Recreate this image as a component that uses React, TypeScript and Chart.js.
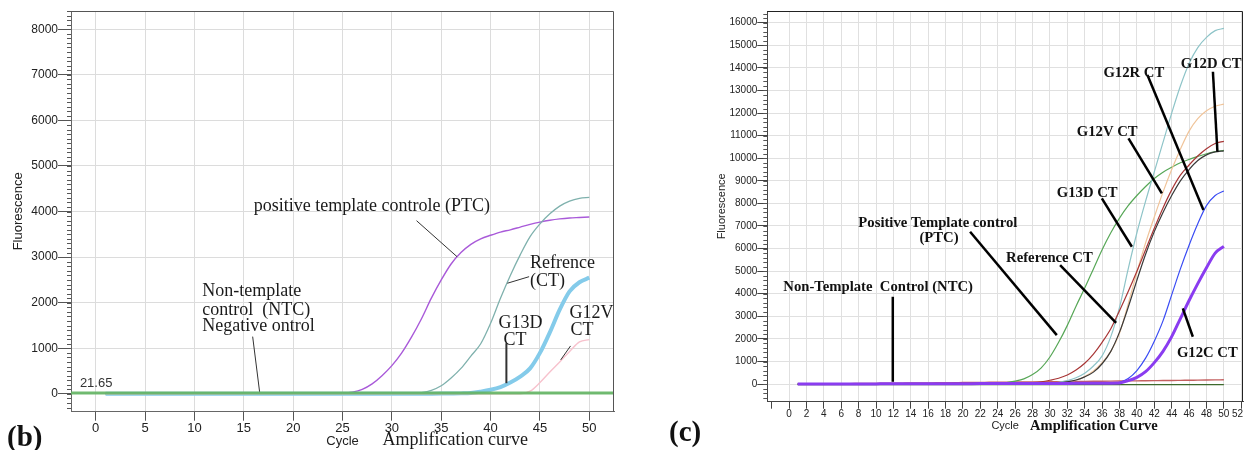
import React, { useEffect, useRef } from 'react';
import { Chart, registerables } from 'chart.js';

Chart.register(...registerables);

const SANS = '"Liberation Sans", Arial, sans-serif';
const NARROW = '"Liberation Sans Narrow", "Arial Narrow", "Liberation Sans", sans-serif';
const SERIF = '"Liberation Serif", "Times New Roman", serif';

// ---------------- shared cycles ----------------
const cycles = [1, 2, 3, 4, 5, 6, 7, 8, 9, 10, 11, 12, 13, 14, 15, 16, 17, 18, 19, 20, 21, 22, 23, 24, 25, 26, 27, 28, 29, 30, 31, 32, 33, 34, 35, 36, 37, 38, 39, 40, 41, 42, 43, 44, 45, 46, 47, 48, 49, 50];

// ---------------- panel (b) ----------------
const bXTicks = [0, 5, 10, 15, 20, 25, 30, 35, 40, 45, 50];
const bYTicks = [0, 1000, 2000, 3000, 4000, 5000, 6000, 7000, 8000];
const bThreshold = 21.65;
const bPTC = [5, 5, 6, 5, 6, 6, 5, 6, 6, 5, 6, 6, 5, 6, 6, 6, 7, 6, 7, 7, 7, 8, 9, 11, 16, 40, 100, 220, 400, 620, 900, 1250, 1650, 2100, 2500, 2850, 3100, 3280, 3400, 3480, 3550, 3600, 3660, 3720, 3770, 3810, 3840, 3860, 3870, 3880];
const bReference = [4, 4, 4, 4, 4, 4, 4, 4, 4, 4, 4, 4, 4, 4, 4, 4, 4, 4, 4, 4, 4, 4, 4, 4, 4, 4, 4, 5, 5, 6, 7, 10, 30, 80, 180, 350, 560, 830, 1100, 1550, 2100, 2600, 3050, 3450, 3730, 3950, 4120, 4230, 4290, 4310];
const bG13D = [3, 3, 3, 3, 3, 3, 3, 3, 3, 3, 3, 3, 3, 3, 3, 3, 3, 3, 3, 3, 3, 3, 3, 3, 3, 3, 3, 3, 3, 4, 4, 5, 5, 6, 7, 9, 12, 20, 50, 90, 150, 250, 380, 560, 900, 1350, 1850, 2250, 2450, 2550];
const bG12V = [0, 0, 0, 0, 0, 0, 0, 0, 0, 0, 0, 0, 0, 0, 0, 0, 0, 0, 0, 0, 0, 0, 0, 0, 0, 0, 0, 0, 0, 0, 0, 0, 0, 0, 0, 0, 0, 0, 0, 0, 1, 2, 4, 60, 250, 480, 700, 930, 1140, 1190];

const bTexts = [
  { text: 'positive template controle (PTC)', c: 16.0, v: 4112, style: 'b' },
  { text: 'Refrence', c: 44.0, v: 2866, style: 'b' },
  { text: '(CT)', c: 44.0, v: 2463, style: 'b' },
  { text: 'Non-template', c: 10.8, v: 2243, style: 'b' },
  { text: 'control  (NTC)', c: 10.8, v: 1842, style: 'b' },
  { text: 'Negative ontrol', c: 10.8, v: 1476, style: 'b' },
  { text: 'G13D', c: 40.8, v: 1550, style: 'b' },
  { text: 'CT', c: 41.3, v: 1184, style: 'b' },
  { text: 'G12V', c: 48.0, v: 1770, style: 'b' },
  { text: 'CT', c: 48.1, v: 1404, style: 'b' },
  { text: '21.65', c: -1.6, v: 235, style: 'bsmall' },
  { text: 'Amplification curve', c: 29.05, v: -1009, style: 'btitle' },
];
const bLeaders = [
  { c1: 32.5, v1: 3800, c2: 36.6, v2: 3011, w: 1 },
  { c1: 43.9, v1: 2572, c2: 41.7, v2: 2428, w: 1 },
  { c1: 15.9, v1: 1257, c2: 16.6, v2: 50, w: 1 },
  { c1: 41.6, v1: 1112, c2: 41.6, v2: 235, w: 2 },
  { c1: 48.1, v1: 1053, c2: 47.1, v2: 746, w: 1 },
];

// ---------------- panel (c) ----------------
const cXTicks = [-2, 0, 2, 4, 6, 8, 10, 12, 14, 16, 18, 20, 22, 24, 26, 28, 30, 32, 34, 36, 38, 40, 42, 44, 46, 48, 50, 52];
const cYTicks = [0, 1000, 2000, 3000, 4000, 5000, 6000, 7000, 8000, 9000, 10000, 11000, 12000, 13000, 14000, 15000, 16000];
const cPTC = [2, 3, 3, 4, 5, 6, 6, 7, 8, 9, 10, 11, 12, 12, 13, 14, 15, 16, 17, 18, 20, 24, 30, 42, 65, 130, 230, 420, 720, 1200, 1850, 2600, 3450, 4250, 5100, 5950, 6700, 7350, 7900, 8350, 8750, 9100, 9380, 9600, 9800, 9950, 10080, 10200, 10290, 10350];
const cG13D = [0, 1, 2, 3, 4, 5, 5, 6, 7, 8, 9, 10, 10, 11, 12, 13, 13, 14, 15, 15, 16, 17, 17, 18, 18, 19, 19, 20, 20, 40, 80, 150, 280, 480, 800, 1250, 2100, 3400, 5100, 6700, 8100, 9400, 10700, 12000, 13200, 14200, 14900, 15350, 15650, 15750];
const cG12V = [0, 1, 2, 3, 3, 4, 5, 5, 6, 7, 7, 8, 8, 9, 9, 10, 10, 10, 11, 11, 11, 12, 12, 12, 12, 13, 13, 13, 10, 20, 40, 80, 170, 330, 580, 950, 1450, 2250, 3550, 4950, 6250, 7400, 8500, 9500, 10400, 11200, 11750, 12100, 12300, 12400];
const cReference = [0, 2, 4, 5, 6, 8, 9, 10, 12, 13, 15, 16, 18, 19, 21, 22, 24, 25, 27, 28, 30, 32, 34, 37, 40, 45, 52, 62, 100, 170, 260, 400, 620, 920, 1330, 1850, 2450, 3250, 4100, 5000, 5950, 6900, 7800, 8600, 9250, 9700, 10100, 10420, 10650, 10750];
const cG12D = [0, 1, 1, 2, 2, 3, 3, 4, 4, 5, 5, 6, 6, 6, 7, 7, 7, 8, 8, 8, 9, 9, 9, 9, 10, 10, 10, 10, 10, 20, 50, 100, 180, 320, 530, 900, 1450, 2300, 3400, 4600, 5750, 6750, 7600, 8350, 9000, 9500, 9900, 10150, 10280, 10330];
const cG12R = [0, 1, 2, 3, 4, 5, 6, 7, 8, 9, 10, 11, 12, 13, 14, 15, 16, 17, 18, 19, 20, 21, 22, 23, 24, 25, 25, 26, 26, 27, 27, 28, 28, 28, 29, 29, 30, 80, 250, 600, 1150, 1900, 2800, 3950, 5100, 6150, 7100, 7900, 8350, 8550];
const cG12C = [0, 1, 2, 3, 4, 5, 6, 7, 8, 9, 10, 11, 12, 13, 14, 15, 16, 17, 18, 19, 20, 21, 22, 23, 24, 25, 26, 27, 28, 29, 30, 31, 32, 33, 35, 38, 42, 50, 150, 300, 550, 950, 1450, 2100, 2900, 3700, 4450, 5150, 5800, 6100];
const cNTC = [0, 4, 8, 12, 15, 19, 22, 26, 30, 33, 37, 40, 44, 47, 51, 54, 58, 61, 65, 68, 72, 75, 79, 82, 86, 89, 93, 96, 100, 104, 108, 112, 116, 120, 124, 128, 132, 136, 140, 144, 148, 152, 156, 160, 165, 170, 175, 180, 185, 190];
const cNegative = [-20, -20, -21, -21, -22, -22, -22, -23, -23, -23, -24, -24, -24, -24, -25, -25, -25, -25, -25, -25, -25, -25, -25, -25, -25, -25, -25, -25, -25, -25, -25, -25, -25, -25, -25, -25, -25, -25, -25, -25, -25, -25, -25, -25, -25, -25, -25, -25, -25, -25];

const cTexts = [
  { text: 'G12R CT', c: 36.15, v: 13761, style: 'c' },
  { text: 'G12D CT', c: 45.05, v: 14173, style: 'c' },
  { text: 'G12V CT', c: 33.09, v: 11174, style: 'c' },
  { text: 'G13D CT', c: 30.79, v: 8446, style: 'c' },
  { text: 'Positive Template control', c: 7.97, v: 7144, style: 'c' },
  { text: '(PTC)', c: 14.99, v: 6453, style: 'c' },
  { text: 'Reference CT', c: 24.96, v: 5567, style: 'c' },
  { text: 'Non-Template  Control (NTC)', c: -0.66, v: 4309, style: 'c' },
  { text: 'G12C CT', c: 44.6, v: 1360, style: 'c' },
  { text: 'Amplification Curve', c: 27.72, v: -1860, style: 'ctitle' },
];
const cLeaders = [
  { c1: 41.21, v1: 13686, c2: 47.65, v2: 7706, w: 2.5 },
  { c1: 48.74, v1: 13832, c2: 49.26, v2: 10289, w: 2.5 },
  { c1: 39.03, v1: 10882, c2: 42.87, v2: 8446, w: 2.5 },
  { c1: 35.97, v1: 8225, c2: 39.42, v2: 6081, w: 2.5 },
  { c1: 20.82, v1: 6745, c2: 30.79, v2: 2170, w: 2.5 },
  { c1: 31.17, v1: 5270, c2: 37.61, v2: 2715, w: 2.5 },
  { c1: 11.93, v1: 3866, c2: 11.93, v2: 102, w: 2.5 },
  { c1: 45.28, v1: 3353, c2: 46.43, v2: 2095, w: 2.5 },
];
// tick label squeezed against the right edge of panel (c)
const cEdgeTick = { value: 52, text: '52' };

const TEXT_STYLES: Record<string, { font: string; color: string }> = {
  b: { font: `18px ${SERIF}`, color: '#1a1a1a' },
  bsmall: { font: `13px ${SANS}`, color: '#333' },
  btitle: { font: `18px ${SERIF}`, color: '#1a1a1a' },
  c: { font: `bold 14.7px ${SERIF}`, color: '#111' },
  ctitle: { font: `bold 14.5px ${SERIF}`, color: '#111' },
};

const pts = (vals: number[]) => vals.map((v, i) => ({ x: cycles[i], y: v }));

function decorPlugin(cfg: any) {
  return {
    id: 'decor',
    afterDatasetsDraw(chart: any) {
      const { ctx, chartArea: a, scales } = chart;
      const x = scales.x;
      const y = scales.y;
      ctx.save();
      // top / right frame
      ctx.lineWidth = 1;
      ctx.strokeStyle = cfg.frameColor;
      ctx.beginPath();
      ctx.moveTo(a.left, a.top + 0.5);
      ctx.lineTo(a.right - 0.5, a.top + 0.5);
      ctx.lineTo(a.right - 0.5, a.bottom);
      ctx.stroke();
      // minor ticks on y axis
      ctx.strokeStyle = '#555';
      const start = Math.ceil(y.min / cfg.minorStep) * cfg.minorStep;
      for (let v = start; v <= y.max; v += cfg.minorStep) {
        const py = Math.round(y.getPixelForValue(v)) + 0.5;
        ctx.beginPath();
        ctx.moveTo(a.left - cfg.minorLen, py);
        ctx.lineTo(a.left, py);
        ctx.stroke();
      }
      // leaders
      ctx.strokeStyle = cfg.leaderColor;
      for (const l of cfg.leaders) {
        ctx.lineWidth = l.w;
        ctx.beginPath();
        ctx.moveTo(x.getPixelForValue(l.c1), y.getPixelForValue(l.v1));
        ctx.lineTo(x.getPixelForValue(l.c2), y.getPixelForValue(l.v2));
        ctx.stroke();
      }
      // texts
      ctx.textAlign = 'left';
      ctx.textBaseline = 'middle';
      for (const t of cfg.texts) {
        const st = TEXT_STYLES[t.style];
        ctx.font = st.font;
        ctx.fillStyle = st.color;
        ctx.fillText(t.text, x.getPixelForValue(t.c), y.getPixelForValue(t.v));
      }
      // edge tick label (drawn right-aligned so it stays inside the canvas)
      if (cfg.edgeTick) {
        ctx.font = `10px ${NARROW}`;
        ctx.fillStyle = '#222';
        ctx.textAlign = 'right';
        ctx.textBaseline = 'top';
        const px = Math.min(x.getPixelForValue(cfg.edgeTick.value) + 5, chart.width - 2);
        ctx.fillText(cfg.edgeTick.text, px, a.bottom + 8);
      }
      ctx.restore();
    },
  };
}

function zeroPad(s: any) {
  s.paddingLeft = 0;
  s.paddingRight = 0;
  s.paddingTop = 0;
  s.paddingBottom = 0;
}

function PanelB() {
  const ref = useRef<HTMLCanvasElement>(null);
  useEffect(() => {
    const chart = new Chart(ref.current!, {
      type: 'line',
      data: {
        datasets: [
          { data: [{ x: -2.5, y: bThreshold }, { x: 52.5, y: bThreshold }], borderColor: 'rgba(98,180,98,0.9)', borderWidth: 3 },
          { data: pts(bG12V), borderColor: '#f7c2cd', borderWidth: 1.4 },
          { data: pts(bG13D), borderColor: '#84cbea', borderWidth: 4 },
          { data: pts(bReference), borderColor: '#7fb1ad', borderWidth: 1.3 },
          { data: pts(bPTC), borderColor: '#a95ad9', borderWidth: 1.4 },
        ],
      },
      options: {
        responsive: false,
        animation: false,
        layout: { padding: { left: 0, top: 11, right: 8, bottom: 0 } },
        plugins: { legend: { display: false }, tooltip: { enabled: false } },
        elements: { point: { radius: 0 }, line: { cubicInterpolationMode: 'monotone' } },
        scales: {
          x: {
            type: 'linear',
            min: -2.5,
            max: 52.5,
            afterBuildTicks: (s: any) => { s.ticks = bXTicks.map((v) => ({ value: v })); },
            afterFit: (s: any) => { s.height = 38.3; zeroPad(s); },
            grid: { color: '#dcdcdc', lineWidth: 1, tickLength: 9, tickColor: '#555' },
            border: { color: '#666' },
            ticks: { font: { family: SANS, size: 13 }, color: '#222', padding: 0, maxRotation: 0, autoSkip: false, callback: (v: any) => String(v) },
            title: { display: true, text: 'Cycle', font: { family: SANS, size: 13 }, color: '#222', padding: { top: 0, bottom: 1 } },
          },
          y: {
            type: 'linear',
            min: -390,
            max: 8400,
            afterBuildTicks: (s: any) => { s.ticks = bYTicks.map((v) => ({ value: v })); },
            afterFit: (s: any) => { s.width = 71; zeroPad(s); },
            grid: { color: '#dcdcdc', lineWidth: 1, tickLength: 13, tickColor: '#555' },
            border: { color: '#666' },
            ticks: { font: { family: SANS, size: 12 }, color: '#222', padding: 0, autoSkip: false, callback: (v: any) => String(v) },
            title: { display: true, text: 'Fluorescence', font: { family: SANS, size: 13 }, color: '#222', padding: { top: 11, bottom: 0 } },
          },
        },
      },
      plugins: [decorPlugin({ frameColor: '#555', minorStep: 100, minorLen: 4, leaderColor: '#333', leaders: bLeaders, texts: bTexts })],
    } as any);
    return () => chart.destroy();
  }, []);
  return <canvas ref={ref} width={622} height={450} style={{ position: 'absolute', left: 0, top: 0, width: 622, height: 450 }} />;
}

function PanelC() {
  const ref = useRef<HTMLCanvasElement>(null);
  useEffect(() => {
    const chart = new Chart(ref.current!, {
      type: 'line',
      data: {
        datasets: [
          { data: pts(cG12C), borderColor: '#8a3cf0', borderWidth: 3 },
          { data: pts(cG12R), borderColor: '#3a4cf4', borderWidth: 1.2 },
          { data: pts(cG12D), borderColor: '#3a3a3a', borderWidth: 1.2 },
          { data: pts(cReference), borderColor: '#a83636', borderWidth: 1.2 },
          { data: pts(cG12V), borderColor: '#f0c49a', borderWidth: 1.2 },
          { data: pts(cG13D), borderColor: '#8ec4c8', borderWidth: 1.2 },
          { data: pts(cPTC), borderColor: '#57a757', borderWidth: 1.2 },
          { data: pts(cNTC), borderColor: '#c46060', borderWidth: 1.4 },
          { data: pts(cNegative), borderColor: '#3d6a2c', borderWidth: 1.4 },
        ],
      },
      options: {
        responsive: false,
        animation: false,
        layout: { padding: { left: 60, top: 11, right: 2, bottom: 0 } },
        plugins: { legend: { display: false }, tooltip: { enabled: false } },
        elements: { point: { radius: 0 }, line: { cubicInterpolationMode: 'monotone' } },
        scales: {
          x: {
            type: 'linear',
            min: -2.5,
            max: 52.2,
            afterBuildTicks: (s: any) => { s.ticks = cXTicks.map((v) => ({ value: v })); },
            afterFit: (s: any) => { s.height = 48.3; zeroPad(s); },
            grid: { color: (c: any) => (c.tick && c.tick.value < 0 ? 'rgba(0,0,0,0)' : '#e0e0e0'), lineWidth: 1, tickLength: 7, tickColor: '#444' },
            border: { color: '#444' },
            ticks: { font: { family: NARROW, size: 10 }, color: '#222', padding: 0, maxRotation: 0, autoSkip: false, callback: (v: any) => (v < 0 || v === cEdgeTick.value ? '' : String(v)) },
            title: { display: true, text: 'Cycle', font: { family: SANS, size: 11 }, color: '#222', padding: { top: 0, bottom: 17 } },
          },
          y: {
            type: 'linear',
            min: -780,
            max: 16520,
            afterBuildTicks: (s: any) => { s.ticks = cYTicks.map((v) => ({ value: v })); },
            afterFit: (s: any) => { s.width = 62.3; zeroPad(s); },
            grid: { color: '#e0e0e0', lineWidth: 1, tickLength: 10, tickColor: '#444' },
            border: { color: '#444' },
            ticks: { font: { family: NARROW, size: 10 }, color: '#222', padding: 0, autoSkip: false, callback: (v: any) => String(v) },
            title: { display: true, text: 'Fluorescence', font: { family: SANS, size: 11 }, color: '#222', padding: { top: 10, bottom: 0 } },
          },
        },
      },
      plugins: [decorPlugin({ frameColor: '#222', minorStep: 200, minorLen: 4, leaderColor: '#000', leaders: cLeaders, texts: cTexts, edgeTick: cEdgeTick })],
    } as any);
    return () => chart.destroy();
  }, []);
  return <canvas ref={ref} width={600} height={450} style={{ position: 'absolute', left: 645, top: 0, width: 600, height: 450 }} />;
}

const letterStyle: React.CSSProperties = {
  position: 'absolute',
  fontFamily: SERIF,
  fontWeight: 'bold',
  fontSize: 29,
  lineHeight: '29px',
  color: '#111',
  whiteSpace: 'nowrap',
};

export default function App() {
  useEffect(() => {
    document.body.style.margin = '0';
    document.body.style.background = '#fff';
  }, []);
  return (
    <div style={{ position: 'relative', width: 1245, height: 450, overflow: 'hidden', background: '#fff' }}>
      <PanelB />
      <PanelC />
      <div style={{ ...letterStyle, left: 7, top: 422 }}>(b)</div>
      <div style={{ ...letterStyle, left: 669, top: 417 }}>(c)</div>
    </div>
  );
}
